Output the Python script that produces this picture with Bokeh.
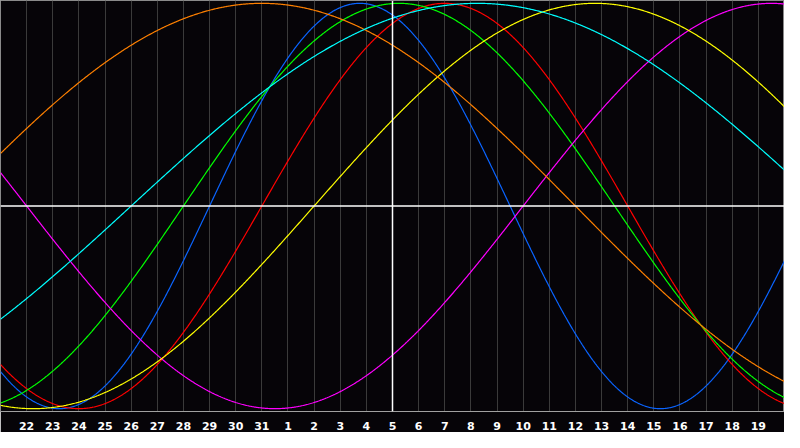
import numpy as np
from bokeh.plotting import figure
from bokeh.models import FixedTicker, Span, Range1d
from bokeh.embed import file_html
from bokeh.resources import INLINE

# ---- data ----
day_labels = ["22", "23", "24", "25", "26", "27", "28", "29", "30", "31",
              "1", "2", "3", "4", "5", "6", "7", "8", "9", "10",
              "11", "12", "13", "14", "15", "16", "17", "18", "19"]
# biorhythm cycle lengths (days)
cycle_names = ["physical", "emotional", "intellectual", "intuitive",
               "aesthetic", "awareness", "spiritual"]
cycle_days = [23, 28, 33, 38, 43, 48, 53]
cycle_colors = ["#0a64ff", "#ff0000", "#00ff00", "#ff00ff",
                "#ffff00", "#ff8000", "#00ffff"]
# days lived at the left edge of the chart (fitted to the curves' phases)
days_lived_at_left = 36194
today_index = 15          # the white vertical line (day "5")
span_days = 30

W, H = 784, 432
p = figure(width=W, height=H, output_backend="svg", toolbar_location=None,
           x_range=Range1d(0, span_days), y_range=Range1d(-1.014, 1.014),
           min_border_left=0, min_border_right=0, min_border_top=0,
           min_border_bottom=19)
p.background_fill_color = "#060408"
p.border_fill_color = "#060408"
p.outline_line_color = "#8a8a8a"
p.outline_line_width = 1

ticks = list(range(1, len(day_labels) + 1))
p.xaxis.ticker = FixedTicker(ticks=ticks)
p.xaxis.major_label_overrides = {t: lab for t, lab in zip(ticks, day_labels)}
p.xaxis.major_tick_line_color = None
p.xaxis.minor_tick_line_color = None
p.xaxis.axis_line_color = "#a0a0a0"
p.xaxis.major_label_text_color = "white"
p.xaxis.major_label_text_font = "DejaVu Sans"
p.xaxis.major_label_text_font_style = "bold"
p.xaxis.major_label_text_font_size = "11px"
p.xaxis.major_label_standoff = 4
p.yaxis.visible = False

p.xgrid.ticker = FixedTicker(ticks=ticks)
p.xgrid.grid_line_color = "#3a3a3a"
p.xgrid.grid_line_width = 1
p.ygrid.grid_line_color = None

p.add_layout(Span(location=0, dimension="width", line_color="white", line_width=1.5))
p.add_layout(Span(location=today_index, dimension="height", line_color="white", line_width=1.5))

xs = np.linspace(0, span_days, 901)
for name, per, col in zip(cycle_names, cycle_days, cycle_colors):
    ys = np.sin(2 * np.pi * (days_lived_at_left + xs) / per)
    p.line(xs, ys, line_color=col, line_width=1.2)

open("out.html", "w").write(file_html(p, INLINE))
